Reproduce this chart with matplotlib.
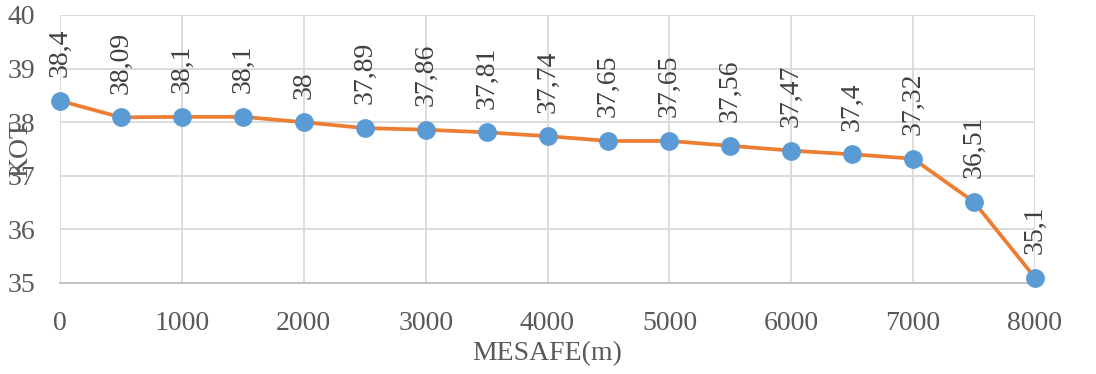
import matplotlib.pyplot as plt

# distance (m) and elevation values
mesafe = [0, 500, 1000, 1500, 2000, 2500, 3000, 3500, 4000,
          4500, 5000, 5500, 6000, 6500, 7000, 7500, 8000]
kot = [38.4, 38.09, 38.1, 38.1, 38, 37.89, 37.86, 37.81, 37.74,
       37.65, 37.65, 37.56, 37.47, 37.4, 37.32, 36.51, 35.1]
x_ticks = [0, 1000, 2000, 3000, 4000, 5000, 6000, 7000, 8000]
y_ticks = [35, 36, 37, 38, 39, 40]

plt.rcParams['font.family'] = ['Liberation Serif', 'DejaVu Serif']
text_col = '#595959'

fig = plt.figure(figsize=(10.96, 3.74), dpi=100)
ax = fig.add_axes([60 / 1096, 1 - 283 / 374, 975 / 1096, 268 / 374])

ax.plot(mesafe, kot, color='#ED7D31', lw=2.7, zorder=3,
        marker='o', markersize=12.5, markerfacecolor='#5B9BD5',
        markeredgecolor='#5B9BD5', clip_on=False)

# rotated value labels above each point
for x, y in zip(mesafe, kot):
    ax.annotate(f"{y:g}".replace('.', ','), (x, y), xytext=(0, 17),
                textcoords='offset points', rotation=90, ha='center',
                va='bottom', fontsize=20, color='#404040',
                annotation_clip=False)

ax.set_xlim(0, 8000)
ax.set_ylim(35, 40)
ax.set_xticks(x_ticks)
ax.set_yticks(y_ticks)
ax.grid(True, color='#D9D9D9', lw=1.3)
ax.set_axisbelow(True)
for s in ['top', 'right', 'left']:
    ax.spines[s].set_visible(False)
ax.spines['bottom'].set_color('#BFBFBF')
ax.spines['bottom'].set_linewidth(1.3)
ax.tick_params(length=0, labelsize=20, labelcolor=text_col)
ax.tick_params(axis='y', pad=18)
ax.tick_params(axis='x', pad=20)

ax.set_xlabel('MESAFE(m)', fontsize=20, color=text_col, labelpad=4)
ax.set_ylabel('KOT', fontsize=20, color=text_col)
ax.yaxis.set_label_coords(-27 / 975, 0.5)

fig.savefig('out.png', dpi=100)
